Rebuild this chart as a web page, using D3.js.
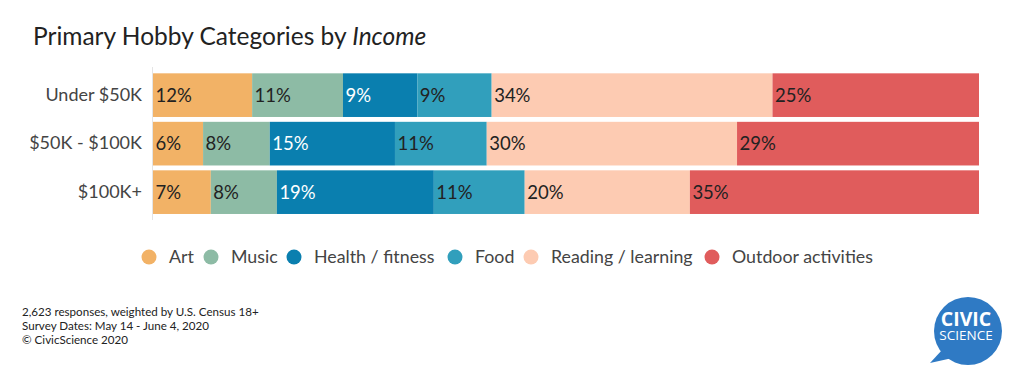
<!DOCTYPE html>
<html><head><meta charset="utf-8">
<script src="https://cdn.jsdelivr.net/npm/d3@7"></script>
<style>body{margin:0;background:#fff}svg{display:block;font-family:Lato,"Open Sans",sans-serif}</style>
</head><body><svg id="c" width="1024" height="377"></svg>
<script>
const rows = ["Under $50K", "$50K - $100K", "$100K+"];
const series = ["Art", "Music", "Health / fitness", "Food", "Reading / learning", "Outdoor activities"];
const art = [12, 6, 7];
const music = [11, 8, 8];
const health = [9, 15, 19];
const food = [9, 11, 11];
const reading = [34, 30, 20];
const outdoor = [25, 29, 35];
const colors = ["#F2B266", "#8DBBA5", "#0A7FAF", "#319FBC", "#FDCBB2", "#E05C5C"];
const textColors = ["#222", "#222", "#fff", "#222", "#222", "#222"];
const footer = ["2,623 responses, weighted by U.S. Census 18+", "Survey Dates: May 14 - June 4, 2020", "\u00A9 CivicScience 2020"];

const values = [art, music, health, food, reading, outdoor];
const svg = d3.select("#c");

svg.append("text").attr("x", 33).attr("y", 45).attr("font-size", 24.5).attr("fill", "#222")
  .text("Primary Hobby Categories by ").append("tspan").attr("font-style", "italic").text("Income");

const x = d3.scaleLinear().domain([0, 1]).range([153, 979]);
const y = d3.scaleBand().domain(rows).range([70.9, 216.4]).paddingInner(0.1).paddingOuter(0.05);

svg.append("line").attr("x1", 152.5).attr("x2", 152.5).attr("y1", 67).attr("y2", 220).attr("stroke", "#e4e4e4");

rows.forEach((r, i) => {
  const vals = values.map(v => v[i]);
  const total = d3.sum(vals);
  let cum = 0;
  const g = svg.append("g");
  vals.forEach((v, j) => {
    const x0 = x(cum / total), x1 = x((cum + v) / total);
    g.append("rect").attr("x", x0).attr("y", y(r)).attr("width", x1 - x0).attr("height", y.bandwidth())
      .attr("fill", colors[j]);
    g.append("text").attr("x", x0 + 2.5).attr("y", y(r) + y.bandwidth() / 2).attr("dy", "0.36em")
      .attr("font-size", 18.5).attr("fill", textColors[j]).text(v + "%");
    cum += v;
  });
});

svg.append("g").attr("transform", "translate(150,0)")
  .call(d3.axisLeft(y).tickSize(0).tickPadding(8))
  .call(g => g.select(".domain").remove())
  .call(g => g.selectAll("text").attr("font-size", 18).attr("fill", "#444").attr("font-family", "Lato,sans-serif"));

// legend
const legX = [149, 211, 294, 455, 531, 712];
const leg = svg.append("g");
series.forEach((s, j) => {
  leg.append("circle").attr("cx", legX[j]).attr("cy", 257).attr("r", 7.5).attr("fill", colors[j]);
  leg.append("text").attr("x", legX[j] + 20).attr("y", 257).attr("dy", "0.36em").attr("font-size", 17.8)
    .attr("fill", "#444").text(s);
});

footer.forEach((t, i) => {
  svg.append("text").attr("x", 22).attr("y", 316 + i * 14).attr("font-size", 11.6).attr("fill", "#222").text(t);
});

// logo
const logo = svg.append("g");
logo.append("path").attr("d", "M942,350 L930,363 L957,357 Z").attr("fill", "#2F7AC4");
logo.append("circle").attr("cx", 968).attr("cy", 331).attr("r", 34).attr("fill", "#2F7AC4");
logo.append("text").attr("x", 966).attr("y", 326).attr("text-anchor", "middle").attr("font-size", 19.5)
  .attr("font-weight", "bold").attr("fill", "#fff").attr("font-family", "Open Sans,sans-serif").text("CIVIC");
logo.append("text").attr("x", 966).attr("y", 340).attr("text-anchor", "middle").attr("font-size", 13.5)
  .attr("fill", "#fff").attr("font-family", "Open Sans,sans-serif").text("SCIENCE");
</script></body></html>
